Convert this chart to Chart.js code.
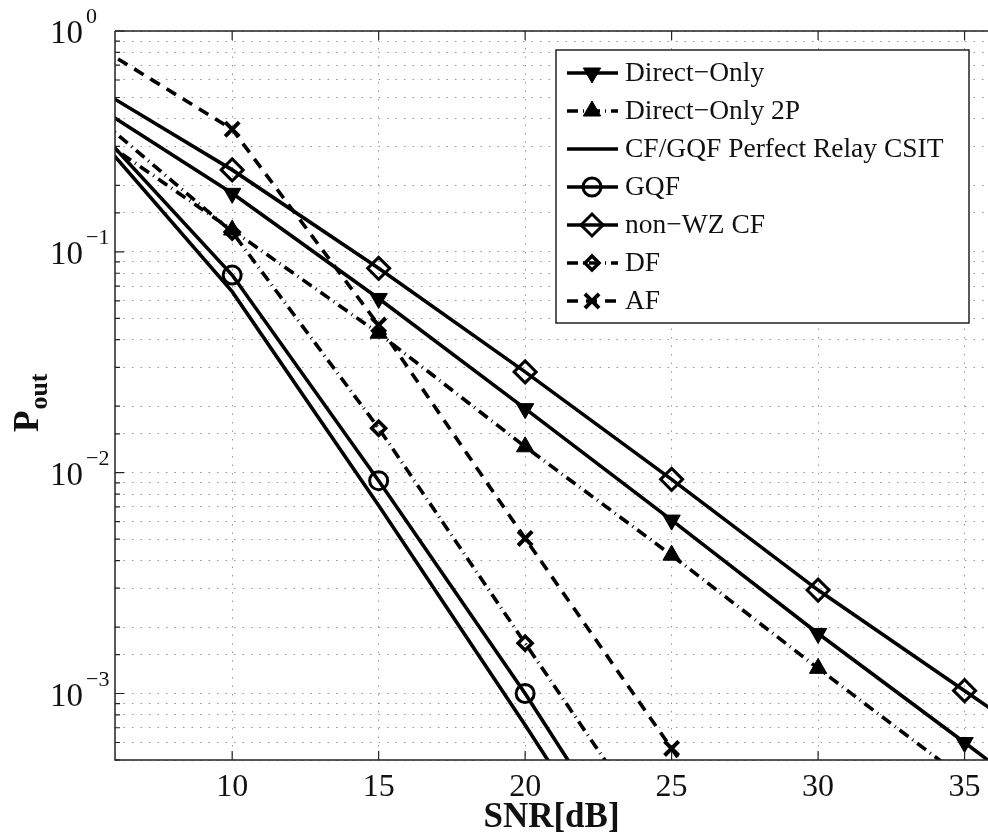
<!DOCTYPE html>
<html><head><meta charset="utf-8">
<script src="https://cdn.jsdelivr.net/npm/chart.js@4.4.1/dist/chart.umd.min.js"></script>
<style>html,body{margin:0;padding:0;background:#fff;overflow:hidden}</style>
</head><body>
<canvas id="c" width="988" height="839"></canvas>
<script>
// ---- data ----
const snr = [5, 10, 15, 20, 25, 30, 35, 40];
const xTicks = [10, 15, 20, 25, 30, 35];
const yDecades = [0, -1, -2, -3];
const directOnly   = [0.49, 0.184, 0.0615, 0.0195, 0.0061, 0.00187, 0.00060, 0.00019];
const directOnly2P = [0.36, 0.1255, 0.0428, 0.0131, 0.00423, 0.0013, 0.00041, 0.00013];
const perfectCSIT  = [0.384, 0.066, 0.0071, 0.00072, 0.000068];
const gqf          = [0.41, 0.0785, 0.0092, 0.0010, 0.000093];
const nonWZ        = [0.59, 0.235, 0.0842, 0.0286, 0.00933, 0.00294, 0.00103, 0.00036];
const df           = [0.45, 0.123, 0.0159, 0.00169, 0.00018];
const af           = [0.92, 0.359, 0.0466, 0.00504, 0.000564, 0.000063];
const seriesNames = ['Direct\u2212Only', 'Direct\u2212Only 2P', 'CF/GQF Perfect Relay CSIT', 'GQF', 'non\u2212WZ CF', 'DF', 'AF'];

const pts = arr => arr.map((v, i) => ({x: snr[i], y: v}));
const DASHDOT = [11, 5, 1, 5];
const DASH = [11, 8];
const base = {borderColor: '#000', pointBorderColor: '#000', borderWidth: 3.6, fill: false, tension: 0};

const datasets = [
  Object.assign({}, base, {label: seriesNames[0], data: pts(directOnly), pointStyle: 'triangle', pointRotation: 180, pointRadius: 10, pointBackgroundColor: '#000', pointBorderWidth: 1}),
  Object.assign({}, base, {label: seriesNames[1], data: pts(directOnly2P), borderDash: DASHDOT, pointStyle: 'triangle', pointRadius: 10, pointBackgroundColor: '#000', pointBorderWidth: 1}),
  Object.assign({}, base, {label: seriesNames[2], data: pts(perfectCSIT), pointRadius: 0}),
  Object.assign({}, base, {label: seriesNames[3], data: pts(gqf), pointStyle: 'circle', pointRadius: 9, pointBackgroundColor: 'rgba(0,0,0,0)', pointBorderWidth: 3}),
  Object.assign({}, base, {label: seriesNames[4], data: pts(nonWZ), pointStyle: 'rectRot', pointRadius: 11, pointBackgroundColor: 'rgba(0,0,0,0)', pointBorderWidth: 3}),
  Object.assign({}, base, {label: seriesNames[5], data: pts(df), borderDash: DASHDOT, pointStyle: 'rectRot', pointRadius: 7, pointBackgroundColor: 'rgba(0,0,0,0)', pointBorderWidth: 3.5}),
  Object.assign({}, base, {label: seriesNames[6], data: pts(af), borderDash: DASH, pointStyle: 'crossRot', pointRadius: 10, pointBorderWidth: 4})
];

const SERIF = '"Liberation Serif", "Times New Roman", serif';

const decor = {
  id: 'decor',
  afterDraw(chart) {
    const ctx = chart.ctx;
    const a = chart.chartArea;
    const xs = chart.scales.x, ys = chart.scales.y;
    ctx.save();
    // frame
    ctx.strokeStyle = '#222';
    ctx.lineWidth = 1.5;
    ctx.setLineDash([]);
    ctx.beginPath();
    ctx.moveTo(a.left, a.top); ctx.lineTo(a.left, a.bottom); ctx.lineTo(a.right, a.bottom);
    ctx.moveTo(a.left, a.top); ctx.lineTo(a.right, a.top);
    ctx.stroke();
    // inward ticks
    ctx.lineWidth = 1.2;
    ctx.beginPath();
    ys.ticks.forEach(t => {
      const y = ys.getPixelForValue(t.value);
      const major = Math.abs(Math.log10(t.value) - Math.round(Math.log10(t.value))) < 1e-9;
      const len = major ? 9 : 5;
      ctx.moveTo(a.left, y); ctx.lineTo(a.left + len, y);
    });
    xTicks.forEach(v => {
      const x = xs.getPixelForValue(v);
      ctx.moveTo(x, a.bottom); ctx.lineTo(x, a.bottom - 9);
      ctx.moveTo(x, a.top); ctx.lineTo(x, a.top + 9);
    });
    ctx.stroke();
    // y tick labels 10^n
    ctx.fillStyle = '#111';
    yDecades.forEach(e => {
      const y = ys.getPixelForValue(Math.pow(10, e));
      ctx.font = '33px ' + SERIF;
      ctx.textAlign = 'right';
      ctx.textBaseline = 'alphabetic';
      ctx.fillText('10', 83, y + 12);
      ctx.font = '22px ' + SERIF;
      ctx.textAlign = 'left';
      ctx.fillText(e === 0 ? '0' : '\u2212' + (-e), 86, y - 8);
    });
    // y title P_out
    ctx.save();
    ctx.translate(38, 432);
    ctx.rotate(-Math.PI / 2);
    ctx.textAlign = 'left';
    ctx.textBaseline = 'alphabetic';
    ctx.font = 'bold 35px ' + SERIF;
    ctx.fillText('P', 0, 0);
    const wP = ctx.measureText('P').width;
    ctx.font = 'bold 26px ' + SERIF;
    ctx.fillText('out', wP + 1, 9);
    ctx.restore();
    // legend
    const L = {x: 556, y: 50, w: 413, h: 273};
    ctx.fillStyle = '#fff';
    ctx.fillRect(L.x, L.y, L.w, L.h);
    ctx.strokeStyle = '#222';
    ctx.lineWidth = 1.5;
    ctx.strokeRect(L.x, L.y, L.w, L.h);
    chart.data.datasets.forEach((ds, i) => {
      const y = 73 + i * 38;
      ctx.strokeStyle = '#000';
      ctx.lineWidth = ds.borderWidth;
      ctx.setLineDash(ds.borderDash || []);
      ctx.beginPath();
      ctx.moveTo(567, y); ctx.lineTo(618, y);
      ctx.stroke();
      ctx.setLineDash([]);
      if (ds.pointRadius > 0) {
        ctx.fillStyle = ds.pointBackgroundColor || '#000';
        ctx.strokeStyle = '#000';
        ctx.lineWidth = ds.pointBorderWidth;
        Chart.helpers.drawPoint(ctx, {pointStyle: ds.pointStyle, radius: ds.pointRadius, rotation: ds.pointRotation || 0, borderWidth: ds.pointBorderWidth}, 592, y);
      }
      ctx.fillStyle = '#111';
      ctx.font = '27.5px ' + SERIF;
      ctx.textAlign = 'left';
      ctx.textBaseline = 'middle';
      ctx.fillText(ds.label, 625, y + 1);
    });
    ctx.restore();
  }
};

new Chart(document.getElementById('c'), {
  type: 'line',
  data: {datasets},
  options: {
    responsive: false,
    animation: false,
    devicePixelRatio: 1,
    layout: {autoPadding: false, padding: {top: 31, left: 0, right: 0, bottom: 0}},
    plugins: {legend: {display: false}, tooltip: {enabled: false}},
    scales: {
      x: {
        type: 'linear', min: 6, max: 35.8,
        afterBuildTicks: s => { s.ticks = xTicks.map(v => ({value: v})); },
        afterFit: s => { s.height = 79; s.paddingLeft = 0; s.paddingRight = 0; },
        grid: {color: '#999', lineWidth: 1, drawTicks: false},
        border: {display: false, dash: [1.5, 7]},
        ticks: {font: {family: SERIF, size: 32}, color: '#111', padding: 8, maxRotation: 0},
        title: {display: true, text: 'SNR[dB]', font: {family: SERIF, size: 35, weight: 'bold'}, color: '#111', padding: {top: 0, bottom: 0}}
      },
      y: {
        type: 'logarithmic', min: 0.0005, max: 1,
        afterFit: s => { s.width = 115; s.paddingTop = 0; s.paddingBottom = 0; },
        grid: {color: '#999', lineWidth: 1, drawTicks: false},
        border: {display: false, dash: [1.5, 7]},
        ticks: {display: false}
      }
    }
  },
  plugins: [decor]
});
</script>
</body></html>
